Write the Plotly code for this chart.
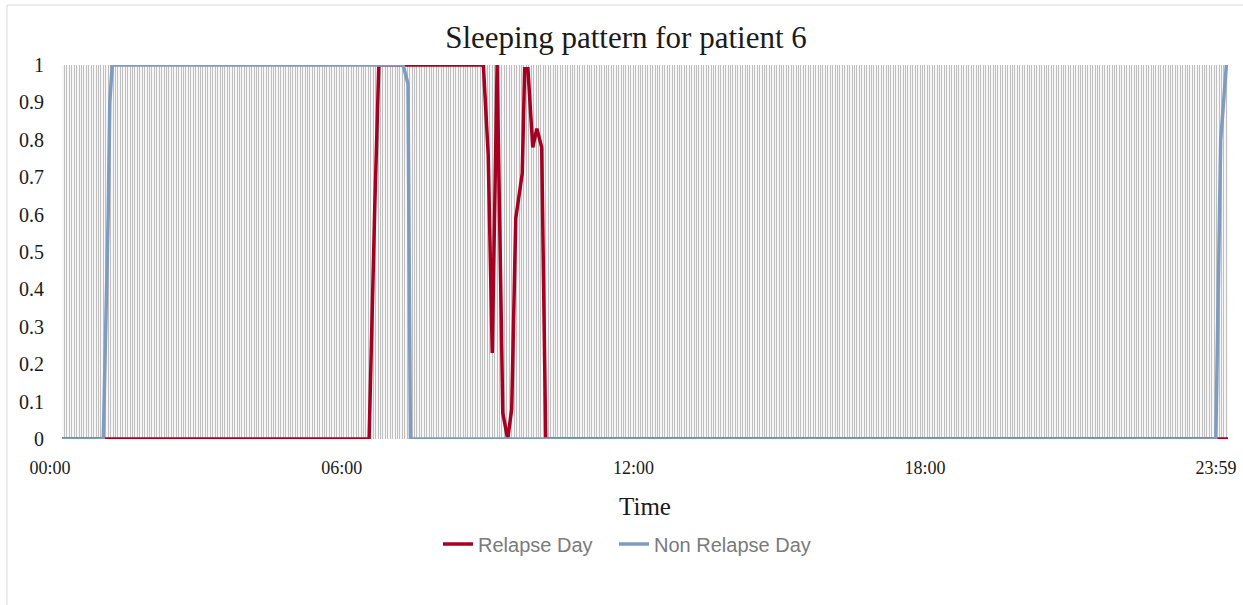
import plotly.graph_objects as go

# Sleep state over one day (0 = awake, 1 = asleep), sampled at HH:MM times
relapse_times = ["00:00", "06:19", "06:26", "06:31", "08:40", "08:46", "08:51", "08:57",
                 "09:04", "09:10", "09:15", "09:20", "09:28", "09:31", "09:35", "09:41",
                 "09:46", "09:52", "09:57", "23:59"]
relapse_values = [0, 0, 0.62, 1, 1, 0.76, 0.23, 1,
                  0.07, 0, 0.08, 0.59, 0.71, 0.99, 0.99, 0.78,
                  0.83, 0.78, 0, 0]

non_relapse_times = ["00:00", "00:51", "00:57", "00:59", "01:02", "07:01", "07:07", "07:10",
                     "23:44", "23:48", "23:50", "23:57", "23:59"]
non_relapse_values = [0, 0, 0.6, 0.9, 1, 1, 0.95, 0,
                      0, 0.6, 0.8, 1, 1]

tick_labels = ["00:00", "06:00", "12:00", "18:00", "23:59"]


def to_minutes(hhmm):
    h, m = hhmm.split(":")
    return int(h) * 60 + int(m)


serif = "Liberation Serif, Times New Roman, serif"
sans = "Liberation Sans, Arial, sans-serif"

fig = go.Figure()
fig.add_trace(go.Scatter(
    x=[to_minutes(t) for t in relapse_times], y=relapse_values,
    mode="lines", name="Relapse Day", legend="legend",
    line=dict(color="#A50021", width=3.5),
))
fig.add_trace(go.Scatter(
    x=[to_minutes(t) for t in non_relapse_times], y=non_relapse_values,
    mode="lines", name="Non Relapse Day", legend="legend2",
    line=dict(color="#7F9CBF", width=3.5),
))

W, H = 1243, 605
L, R, T, B = 62, 15, 65, 166
PW, PH = W - L - R, H - T - B

legend_style = dict(orientation="h", xanchor="left",
                    y=-(544 - (H - B)) / PH, yanchor="middle",
                    font=dict(family=sans, size=20, color="#7a7a7a"),
                    bgcolor="rgba(0,0,0,0)")

fig.update_layout(
    width=W, height=H,
    margin=dict(l=L, r=R, t=T, b=B, pad=0, autoexpand=False),
    paper_bgcolor="white",
    plot_bgcolor="#f7f7f7",
    title=dict(text="Sleeping pattern for patient 6", x=626 / W,
               xanchor="center", y=1 - 37 / H, yanchor="middle", yref="container",
               font=dict(family=serif, size=31, color="#1a1a1a")),
    showlegend=True,
    legend=dict(x=(438 - L) / PW, **legend_style),
    legend2=dict(x=(614 - L) / PW, **legend_style),
    xaxis=dict(
        range=[0, 1439],
        automargin=False,
        tickmode="array",
        tickvals=[to_minutes(t) for t in tick_labels],
        ticktext=tick_labels,
        ticks="",
        ticklabelstandoff=16,
        ticklabelshift=-12,
        ticklabeloverflow="allow",
        showline=False,
        zeroline=False,
        showgrid=True,
        gridcolor="#c0c0c0",
        gridwidth=1,
        minor=dict(dtick=3, tick0=0, showgrid=True, gridcolor="#c0c0c0", gridwidth=1, ticks=""),
        tickfont=dict(family=serif, size=18, color="#1a1a1a"),
        title=dict(text="Time", font=dict(family=serif, size=25, color="#1a1a1a"), standoff=20),
        fixedrange=True,
    ),
    yaxis=dict(
        range=[0, 1],
        automargin=False,
        dtick=0.1,
        tick0=0,
        showgrid=False,
        zeroline=False,
        showline=False,
        ticks="",
        ticklabelstandoff=17,
        tickfont=dict(family=serif, size=20, color="#1a1a1a"),
        fixedrange=True,
    ),
    shapes=[dict(type="rect", xref="paper", yref="paper",
                 x0=(7 - L) / PW, x1=(W + 10 - L) / PW,
                 y0=-(H + 10 - (H - B)) / PH, y1=1 + (T - 5) / PH,
                 line=dict(color="#d9d9d9", width=1), layer="below")],
)

fig.write_html("out.html")
